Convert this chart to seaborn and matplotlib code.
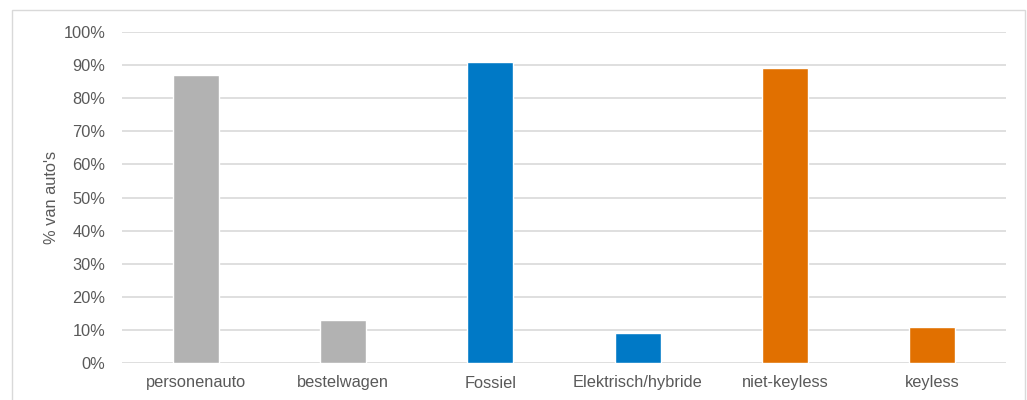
import matplotlib
matplotlib.use("Agg")
import matplotlib.pyplot as plt
from matplotlib.patches import Rectangle
from matplotlib.ticker import PercentFormatter, MultipleLocator
import seaborn as sns
import pandas as pd

categories = ["personenauto", "bestelwagen", "Fossiel", "Elektrisch/hybride", "niet-keyless", "keyless"]
values = [87, 13, 91, 9, 89, 11]
colors = ["#B2B2B2", "#B2B2B2", "#0079C6", "#0079C6", "#E17000", "#E17000"]

df = pd.DataFrame({"categorie": categories, "aandeel": values})

sns.set_theme(style="white")
plt.rcParams["font.family"] = ["Liberation Sans", "DejaVu Sans"]

fig = plt.figure(figsize=(10.27, 4.0), dpi=100)
ax = fig.add_axes([122 / 1027, 1 - 363 / 400, (1006 - 122) / 1027, (363 - 32) / 400])

sns.barplot(data=df, x="categorie", y="aandeel", hue="categorie",
            palette=dict(zip(categories, colors)), legend=False,
            width=0.31, saturation=1, ax=ax, zorder=3)

ax.set_ylim(0, 100)
ax.set_xlim(-0.5, len(categories) - 0.5)
ax.yaxis.set_major_locator(MultipleLocator(10))
ax.yaxis.set_major_formatter(PercentFormatter(decimals=0))
ax.grid(axis="y", color="#D9D9D9", linewidth=1.2, zorder=0)
ax.set_axisbelow(True)
for s in ax.spines.values():
    s.set_visible(False)

text_color = "#595959"
ax.tick_params(axis="both", length=0, labelsize=11.8, labelcolor=text_color)
ax.tick_params(axis="y", pad=12)
ax.tick_params(axis="x", pad=9)
ax.set_xlabel("")
ax.set_ylabel("% van auto's", fontsize=11.8, color=text_color, labelpad=3)

# outer chart frame
fig.patches.append(Rectangle((12 / 1027, -0.01), (1025 - 12) / 1027, 1 - 10 / 400 + 0.01,
                             transform=fig.transFigure, fill=False,
                             edgecolor="#D9D9D9", linewidth=1.0))

fig.savefig("out.png", dpi=100)
